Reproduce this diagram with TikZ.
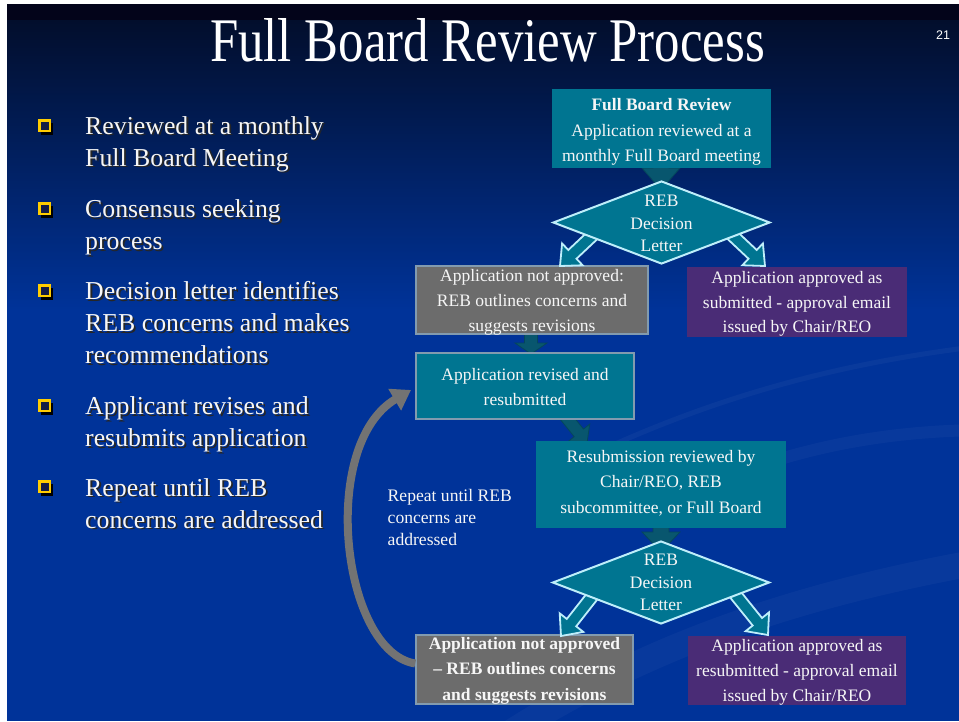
\documentclass[tikz,border=0pt]{standalone}
\usepackage{fontspec}
\setmainfont{Liberation Serif}
\newfontfamily\sansf{Liberation Sans}
\usepackage{graphicx}
\usetikzlibrary{calc,arrows.meta,shapes.geometric}

\definecolor{bgtop}{RGB}{3,4,26}
\definecolor{bgnavy}{RGB}{2,14,44}
\definecolor{bgblue}{RGB}{0,51,153}
\definecolor{tealbox}{RGB}{0,117,145}
\definecolor{tealdark}{RGB}{8,86,110}
\definecolor{tealdarkedge}{RGB}{5,70,92}
\definecolor{grayfill}{RGB}{108,108,108}
\definecolor{purplebox}{RGB}{74,44,118}
\definecolor{cyanline}{RGB}{190,238,250}
\definecolor{boxedge}{RGB}{130,155,175}
\definecolor{loopgray}{RGB}{115,115,115}
\definecolor{bulletyellow}{RGB}{255,204,0}
\definecolor{textwhite}{RGB}{246,246,246}

\newcommand\blockarr[6]{%
  \coordinate (bah) at ($(#2)!#5!(#1)$);
  \draw[#6] ($(#1)!#3!90:(#2)$) -- ($(bah)!#3!90:(#2)$) -- ($(bah)!#4!90:(#2)$)
    -- (#2) -- ($(bah)!#4!-90:(#2)$) -- ($(bah)!#3!-90:(#2)$) -- ($(#1)!#3!-90:(#2)$) -- cycle;}

\newcommand\bulletitem[4]{%
  \fill[black] (41,{#2-4.5}) rectangle ++(12,12);
  \draw[bulletyellow, line width=2.2pt, fill={rgb,255:red,20;green,28;blue,70}] (39.5,{#2-6.5}) rectangle ++(10.5,10.5);
  \node[btext, text=black!85] at (86.8,{#3+1.8}) {#4};
  \node[btext] (#1) at (85,#3) {#4};}

\begin{document}
\begin{tikzpicture}[x=1pt,y=-1pt,
  btext/.style={anchor=west, align=left, inner sep=0, text=textwhite, font=\fontsize{25.8}{32}\selectfont},
  boxtext/.style={align=center, inner sep=0, text=textwhite, font=\fontsize{17.5}{25.3}\selectfont},
  dtext/.style={align=center, inner sep=0, text=textwhite, font=\fontsize{17.5}{22.5}\selectfont},
  tealrect/.style={rectangle, inner sep=0, fill=tealbox},
  tealedge/.style={rectangle, inner sep=0, fill=tealbox, draw=boxedge, line width=1.6pt},
  grayrect/.style={rectangle, inner sep=0, fill=grayfill, draw=boxedge, line width=1.6pt},
  purplerect/.style={rectangle, inner sep=0, fill=purplebox},
  decision/.style={diamond, inner sep=0, minimum width=217, minimum height=83, fill=tealbox, draw=cyanline, line width=2pt},
  bigarrow/.style={fill=tealbox, draw=cyanline, line width=1.8pt, line join=miter},
  smallarrow/.style={fill=tealdark, draw=tealdarkedge, line width=0.8pt, line join=miter},
  loopline/.style={draw=loopgray, line width=8pt, -{Triangle[width=24pt,length=19pt]}},
  swoosh/.style={draw=white, line cap=round}
]
\useasboundingbox (0,0) rectangle (959,721);
% background
\fill[white] (0,0) rectangle (959,721);
\fill[bgblue] (7,4) rectangle (959,721);
\shade[top color=bgnavy, bottom color=bgblue] (7,20) rectangle (959,310);
\fill[bgtop] (7,4) rectangle (959,20);
% faint swooshes
\draw[swoosh, opacity=0.03, line width=26pt] (470,760) .. controls (640,640) and (820,590) .. (990,560);
\draw[swoosh, opacity=0.035, line width=5pt] (560,470) .. controls (720,390) and (860,360) .. (990,345);
\draw[swoosh, opacity=0.03, line width=12pt] (640,520) .. controls (760,450) and (880,430) .. (990,430);

% title and page number
\node[inner sep=0, text=white, font=\fontsize{62}{62}\selectfont] (title) at (487.5,40) {\scalebox{0.82}[1]{Full Board Review Process}};
\node[inner sep=0, text=white, font=\sansf\fontsize{12.5}{12.5}\selectfont] (pagenum) at (943,35) {21};

% bullets
\bulletitem{bt1}{127}{144}{Reviewed at a monthly\\Full Board Meeting}
\bulletitem{bt2}{210}{227}{Consensus seeking\\process}
\bulletitem{bt3}{292}{322.3}{Decision letter identifies\\REB concerns and makes\\recommendations}
\bulletitem{bt4}{407}{424}{Applicant revises and\\resubmits application}
\bulletitem{bt5}{488}{503.3}{Repeat until REB\\concerns are addressed}

% coordinates for arrow ends
\coordinate (a1s) at (661,150);   \coordinate (a1e) at (661,190);
\coordinate (a2s) at (531,328);   \coordinate (a2e) at (531,354);
\coordinate (a3s) at (562,412);   \coordinate (a3e) at (587,443);
\coordinate (a4s) at (661,515);   \coordinate (a4e) at (661,552);

% small dark connectors (behind boxes)
\blockarr{a1s}{a1e}{8pt}{19pt}{22pt}{smallarrow}
\blockarr{a2s}{a2e}{6.5pt}{16pt}{11pt}{smallarrow}
\blockarr{a3s}{a3e}{6pt}{14pt}{13pt}{smallarrow}
\blockarr{a4s}{a4e}{8pt}{19pt}{20pt}{smallarrow}

% boxes
\node[tealrect, minimum width=219, minimum height=79] (b1) at (661.5,128.5) {};
\node[grayrect, minimum width=232, minimum height=68] (b2) at (532,300) {};
\node[purplerect, minimum width=220, minimum height=70] (b3) at (797,302) {};
\node[tealedge, minimum width=218, minimum height=66] (b4) at (525,386) {};
\node[tealrect, minimum width=250, minimum height=87] (b5) at (661,484.5) {};
\node[grayrect, minimum width=217, minimum height=69] (b6) at (524.5,669.5) {};
\node[purplerect, minimum width=218, minimum height=69] (b7) at (797,670.5) {};

% big decision arrows
\coordinate (d1l) at (594,234); \coordinate (d1lt) at (560,266);
\coordinate (d1r) at (731,234); \coordinate (d1rt) at (765,266);
\coordinate (d2l) at (594,594); \coordinate (d2lt) at (561,636);
\coordinate (d2r) at (735,594); \coordinate (d2rt) at (768,635);
\blockarr{d1l}{d1lt}{6pt}{15pt}{17pt}{bigarrow}
\blockarr{d1r}{d1rt}{6pt}{15pt}{17pt}{bigarrow}
\blockarr{d2l}{d2lt}{6pt}{15pt}{17pt}{bigarrow}
\blockarr{d2r}{d2rt}{6pt}{15pt}{17pt}{bigarrow}

% decisions
\node[decision] (d1) at (661.5,222.5) {};
\node[decision] (d2) at (661,582.5) {};

% texts
\node[boxtext, font=\fontsize{17.5}{25.5}\selectfont] (t1) at (661.5,132) {\textbf{Full Board Review}\\Application reviewed at a\\monthly Full Board meeting};
\node[dtext] (td1) at (661.5,223.4) {REB\\Decision\\Letter};
\node[boxtext, font=\fontsize{17.5}{25}\selectfont] (t2) at (532,302.6) {Application not approved:\\REB outlines concerns and\\suggests revisions};
\node[boxtext, font=\fontsize{17.5}{24.7}\selectfont] (t3) at (797,303.9) {Application approved as\\submitted - approval email\\issued by Chair/REO};
\node[boxtext] (t4) at (525,387.3) {Application revised and\\resubmitted};
\node[boxtext, font=\fontsize{17.5}{25.8}\selectfont] (t5) at (661,483.2) {Resubmission reviewed by\\Chair/REO, REB\\subcommittee, or Full Board};
\node[dtext] (td2) at (661,582.7) {REB\\Decision\\Letter};
\node[boxtext, font=\bfseries\fontsize{17.5}{25.5}\selectfont] (t6) at (524.5,670.4) {Application not approved\\– REB outlines concerns\\and suggests revisions};
\node[boxtext, font=\fontsize{17.5}{25}\selectfont] (t7) at (797,672.6) {Application approved as\\resubmitted - approval email\\issued by Chair/REO};

% loop back arrow
\coordinate (looptip) at (411,390);
\draw[loopline] ($(b6.west)+(0,-6)$) .. controls (342,652) and (318,445) .. (looptip);
\node[anchor=west, align=left, inner sep=0, text=textwhite, font=\fontsize{17.6}{21.7}\selectfont] (looplabel) at (387.5,517.3) {Repeat until REB\\concerns are\\addressed};
\end{tikzpicture}
\end{document}
